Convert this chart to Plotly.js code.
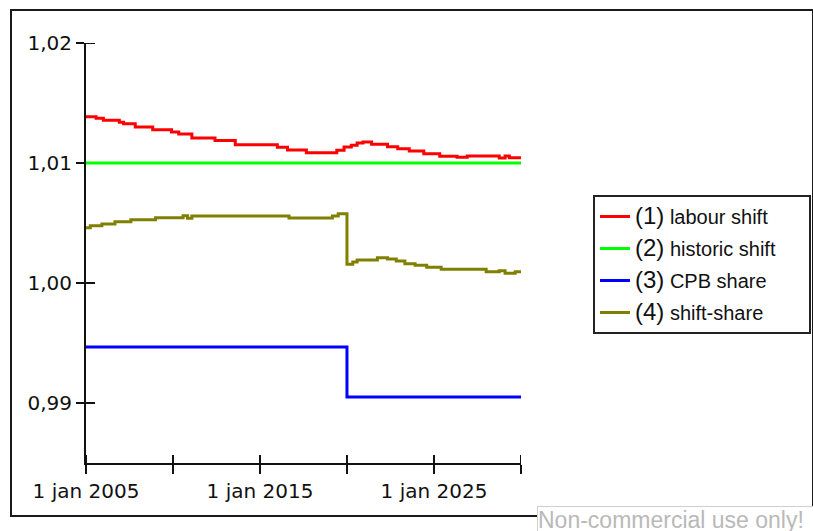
<!DOCTYPE html>
<html>
<head>
<meta charset="utf-8">
<script src="https://cdn.plot.ly/plotly-3.0.1.min.js"></script>
<style>
  html, body { margin: 0; padding: 0; background: #ffffff; }
  #frame { position: absolute; left: 10px; top: 9px; width: 800px; height: 504px; border: 2px solid #1a1a1a; z-index: 0; }
  #chart { position: absolute; left: 0; top: 0; width: 813px; height: 531px; z-index: 1; }
</style>
</head>
<body>
<div id="frame"></div>
<div id="chart"></div>
<script>
// ---- data ----
const seriesNames = [
  "<span style='font-size:24px'>(1)</span> labour shift",
  "<span style='font-size:24px'>(2)</span> historic shift&nbsp;&nbsp;&nbsp;&nbsp;&nbsp;",
  "<span style='font-size:24px'>(3)</span> CPB share",
  "<span style='font-size:24px'>(4)</span> shift-share"
];

const labourDates = ["2005-01-01","2005-08-01","2006-01-01","2006-12-01","2007-03-01","2007-11-01","2008-11-01",
  "2009-12-01","2010-05-01","2011-02-01","2012-06-01","2013-08-01","2016-01-01","2016-08-01","2017-09-01",
  "2019-06-01","2019-11-01","2020-04-01","2020-08-01","2020-12-01","2021-06-01","2022-05-01","2022-12-01",
  "2023-08-01","2024-06-01","2025-05-01","2026-05-01","2026-12-01","2028-10-01","2029-02-01","2029-05-01","2030-01-01"];
const labourValues = [1.01386,1.01373,1.01356,1.01339,1.01328,1.01300,1.01278,
  1.01258,1.01242,1.01208,1.01188,1.01153,1.01131,1.01108,1.01086,
  1.01106,1.01133,1.01148,1.01167,1.01175,1.01156,1.01136,1.01119,
  1.01100,1.01078,1.01056,1.01048,1.01058,1.01042,1.01058,1.01044,1.01044];

const historicDates = ["2005-01-01","2030-01-01"];
const historicValues = [1.01, 1.01];

const cpbDates = ["2005-01-01","2020-01-01","2030-01-01"];
const cpbValues = [0.99467, 0.9905, 0.9905];

const shiftShareDates = ["2005-01-01","2005-04-01","2005-12-01","2006-09-01","2007-08-01","2009-01-01","2010-08-01",
  "2010-11-01","2011-02-01","2016-09-01","2019-03-01","2019-07-01","2020-01-01","2020-05-01","2020-08-01",
  "2021-10-01","2022-05-01","2022-11-01","2023-05-01","2023-12-01","2024-08-01","2025-06-01","2028-01-01",
  "2028-10-01","2029-02-01","2029-09-01","2030-01-01"];
const shiftShareValues = [1.00461,1.00478,1.00492,1.00511,1.00528,1.00544,1.00561,
  1.00539,1.00558,1.00542,1.00558,1.00578,1.00156,1.00175,1.00192,
  1.00211,1.00200,1.00183,1.00161,1.00147,1.00131,1.00114,1.00094,
  1.00103,1.00081,1.00094,1.00081];

const xTickVals = ["2005-01-01","2010-01-01","2015-01-01","2020-01-01","2025-01-01","2030-01-01"];
const xTickText = ["1 jan 2005","","1 jan 2015","","1 jan 2025",""];
const yTickVals = [0.99, 1.00, 1.01, 1.02];

const colors = ["#ff0000", "#00ff00", "#0000ff", "#808000"];

// ---- traces ----
const xs = [labourDates, historicDates, cpbDates, shiftShareDates];
const ys = [labourValues, historicValues, cpbValues, shiftShareValues];
const traces = xs.map((x, i) => ({
  type: "scatter", mode: "lines", x: x, y: ys[i], name: seriesNames[i],
  line: { color: colors[i], width: 3, shape: "hv" },
  legendgroup: "g" + i, hoverinfo: "skip"
}));

// inner halves of the crossing tick marks, placed through the axes at the tick values
const tickLine = { color: "#111", width: 2 };
const innerTicks = [
  ...xTickVals.map(v => ({ type: "line", layer: "below", xref: "x", yref: "y domain",
    x0: v, x1: v, y0: 0, y1: 8 / 420, line: tickLine })),
  ...yTickVals.map(v => ({ type: "line", layer: "below", xref: "x domain", yref: "y",
    x0: 0, x1: 9 / 435, y0: v, y1: v, line: tickLine }))
];

const tickFont = { family: "DejaVu Sans, Verdana, sans-serif", size: 20, color: "#111" };

const layout = {
  width: 813, height: 531,
  margin: { l: 86, r: 292, t: 43, b: 68, pad: 0, autoexpand: false },
  paper_bgcolor: "rgba(0,0,0,0)", plot_bgcolor: "rgba(0,0,0,0)",
  separators: ", ",
  showlegend: true,
  xaxis: {
    type: "date", range: ["2005-01-01", "2030-01-01"], showgrid: false, zeroline: false,
    showline: true, linecolor: "#111", linewidth: 2,
    tickmode: "array", tickvals: xTickVals, ticktext: xTickText,
    ticks: "outside", ticklen: 9, tickwidth: 2, tickcolor: "#111",
    tickfont: tickFont
  },
  yaxis: {
    range: [0.985, 1.02], showgrid: false, zeroline: false,
    showline: true, linecolor: "#111", linewidth: 2,
    tickmode: "array", tickvals: yTickVals, tickformat: ".2f",
    ticks: "outside", ticklen: 8, tickwidth: 2, tickcolor: "#111",
    tickfont: tickFont
  },
  shapes: innerTicks,
  legend: {
    x: (593 - 86) / 435, y: (463 - 195) / 420, xanchor: "left", yanchor: "top",
    bgcolor: "#ffffff", bordercolor: "#222", borderwidth: 2,
    font: { family: "Liberation Sans, Arial, sans-serif", size: 20, color: "#111" },
    traceorder: "grouped", tracegroupgap: 3
  },
  annotations: [{
    xref: "paper", yref: "paper",
    x: (537 - 86) / 435, y: (463 - 506) / 420, xanchor: "left", yanchor: "top",
    text: "Non-commercial use only!", showarrow: false,
    width: 280, height: 26, align: "left", valign: "top",
    font: { family: "Liberation Sans, Arial, sans-serif", size: 23, color: "#b9b9b9" },
    bgcolor: "#ffffff", bordercolor: "#cfcfcf", borderwidth: 1, borderpad: 0
  }]
};

Plotly.newPlot("chart", traces, layout, { displayModeBar: false, staticPlot: true });
</script>
</body>
</html>
